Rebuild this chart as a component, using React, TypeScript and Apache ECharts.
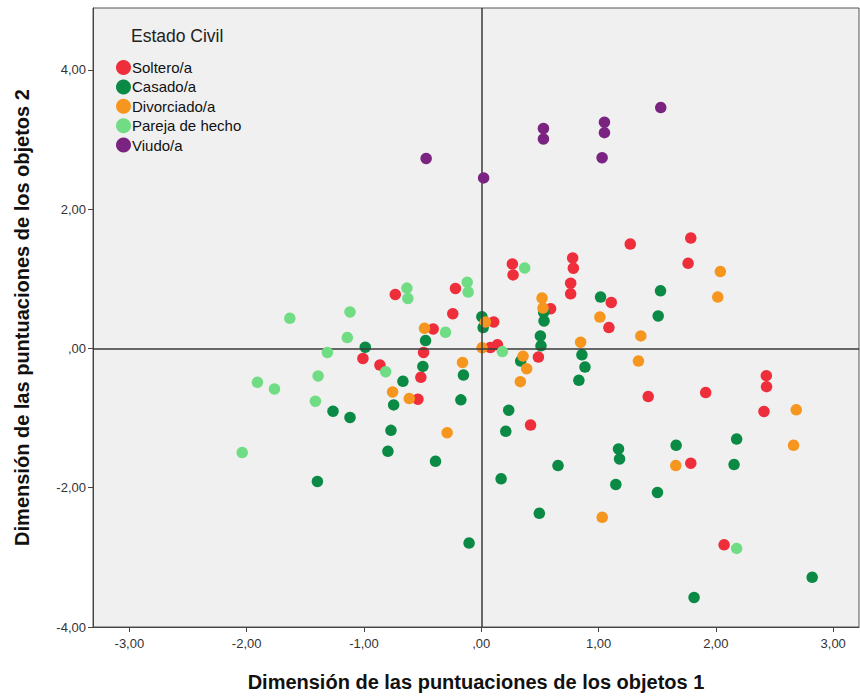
import React, { useEffect, useRef } from "react";
import * as echarts from "echarts";

const seriesNames = ["Soltero/a", "Casado/a", "Divorciado/a", "Pareja de hecho", "Viudo/a"];
const seriesColors = ["#EE2F3B", "#0A8A45", "#F7961E", "#70DD85", "#7A2381"];

const soltero: number[][] = [
  [-0.733, 0.776], [-0.22, 0.862], [-0.243, 0.5], [-0.41, 0.281], [-0.492, -0.057],
  [-1.009, -0.143], [-0.864, -0.238], [-0.515, -0.414], [-0.54, -0.729], [0.106, 0.381],
  [0.078, 0.014], [0.138, 0.053], [0.265, 1.214], [0.271, 1.057], [0.591, 0.571],
  [0.487, -0.124], [0.42, -1.1], [0.779, 1.3], [0.785, 1.153], [0.762, 0.938],
  [0.762, 0.786], [1.108, 0.661], [1.088, 0.3], [1.27, 1.5], [1.786, 1.586],
  [1.763, 1.224], [1.423, -0.69], [1.913, -0.633], [2.43, -0.39], [2.432, -0.548],
  [2.41, -0.905], [1.786, -1.648], [2.07, -2.82],
];

const casado: number[][] = [
  [-0.475, 0.114], [-0.989, 0.019], [-0.498, -0.257], [-0.668, -0.471], [-0.152, -0.381],
  [-0.174, -0.738], [-0.747, -0.81], [-1.264, -0.9], [-1.119, -0.99], [-0.77, -1.176],
  [-0.796, -1.476], [-0.39, -1.62], [-1.397, -1.91], [-0.104, -2.795], [0.005, 0.457],
  [0.016, 0.3], [0.532, 0.52], [0.535, 0.395], [0.504, 0.181], [0.509, 0.038],
  [0.336, -0.181], [0.858, -0.09], [0.884, -0.267], [0.832, -0.457], [1.017, 0.738],
  [1.528, 0.829], [1.508, 0.467], [0.234, -0.886], [0.209, -1.19], [0.169, -1.871],
  [0.654, -1.681], [0.495, -2.367], [1.17, -1.443], [1.179, -1.586], [1.147, -1.952],
  [1.502, -2.067], [1.661, -1.39], [2.177, -1.3], [2.155, -1.667], [2.821, -3.286],
  [1.814, -3.576],
];

const divorciado: number[][] = [
  [-0.484, 0.29], [0.035, 0.381], [0.007, 0.01], [-0.16, -0.2], [-0.756, -0.624],
  [-0.614, -0.719], [-0.291, -1.21], [0.518, 0.724], [0.526, 0.581], [1.011, 0.452],
  [1.36, 0.181], [0.847, 0.09], [1.34, -0.181], [0.356, -0.11], [0.387, -0.29],
  [0.333, -0.476], [2.038, 1.105], [2.016, 0.738], [2.685, -0.881], [2.662, -1.39],
  [1.658, -1.681], [1.031, -2.424],
];

const pareja: number[][] = [
  [-0.12, 0.952], [-0.112, 0.81], [-0.634, 0.867], [-0.626, 0.719], [-1.119, 0.524],
  [-1.632, 0.433], [-1.142, 0.157], [-0.305, 0.233], [-1.312, -0.057], [-0.815, -0.333],
  [-1.391, -0.395], [-1.908, -0.486], [-1.763, -0.581], [-1.414, -0.757], [-2.038, -1.495],
  [0.18, -0.045], [0.37, 1.157], [2.177, -2.871],
];

const viudo: number[][] = [
  [-0.47, 2.73], [0.02, 2.45], [0.53, 3.16], [0.53, 3.01], [1.05, 3.25],
  [1.05, 3.1], [1.03, 2.74], [1.53, 3.46],
];

const xTicks = [-3, -2, -1, 0, 1, 2, 3];
const yTicks = [-4, -2, 0, 2, 4];

const seriesData = [soltero, casado, divorciado, pareja, viudo];

const fmt = (v: number) => (v === 0 ? ",00" : v.toFixed(2).replace(".", ","));

export default function App() {
  const ref = useRef<HTMLDivElement>(null);
  useEffect(() => {
    if (!ref.current) return;
    const chart = echarts.init(ref.current, null, { renderer: "svg" });
    const font = "'Liberation Sans', Arial, sans-serif";
    const option: any = {
      animation: false,
      backgroundColor: "#ffffff",
      textStyle: { fontFamily: font },
      title: {
        text: "Estado Civil",
        left: 126,
        top: 22,
        textStyle: { fontSize: 17.5, fontWeight: "normal", color: "#222", fontFamily: font },
      },
      legend: {
        data: seriesNames,
        orient: "vertical",
        left: 111,
        top: 55,
        itemWidth: 15,
        itemHeight: 15,
        itemGap: 4.4,
        icon: "circle",
        textStyle: { fontSize: 15, color: "#111", fontFamily: font, padding: [0, 0, 0, -4] },
        selectedMode: false,
      },
      grid: {
        left: 93,
        top: 8,
        right: 1,
        bottom: 67,
        show: true,
        backgroundColor: "#f0f0f0",
        borderColor: "#555",
        borderWidth: 1,
      },
      xAxis: {
        type: "value",
        min: -3.31,
        max: 3.22,
        name: "Dimensión de las puntuaciones de los objetos 1",
        nameLocation: "middle",
        nameGap: 45,
        nameTextStyle: { fontSize: 20, fontWeight: "bold", color: "#111", fontFamily: font },
        axisLine: { show: true, onZero: false, lineStyle: { color: "#444", width: 1 } },
        axisTick: { show: true, inside: false, length: 5, customValues: xTicks, lineStyle: { color: "#444" } },
        axisLabel: { customValues: xTicks, formatter: fmt, fontSize: 13, color: "#333", margin: 10, fontFamily: font },
        splitLine: { show: false },
      },
      yAxis: {
        type: "value",
        min: -4,
        max: 4.89,
        name: "Dimensión de las puntuaciones de los objetos 2",
        nameLocation: "middle",
        nameGap: 61,
        nameTextStyle: { fontSize: 20, fontWeight: "bold", color: "#111", fontFamily: font },
        axisLine: { show: true, onZero: false, lineStyle: { color: "#444", width: 1 } },
        axisTick: { show: true, inside: false, length: 5, customValues: yTicks, lineStyle: { color: "#444" } },
        axisLabel: { customValues: yTicks, formatter: fmt, fontSize: 13, color: "#333", margin: 7, fontFamily: font },
        splitLine: { show: false },
      },
      series: [
        ...seriesNames.map((name, i) => ({
          name,
          type: "scatter",
          symbol: "circle",
          symbolSize: 11.5,
          itemStyle: { color: seriesColors[i], opacity: 1 },
          data: seriesData[i],
          z: 2 + i,
        })),
        {
          name: "ref",
          type: "scatter",
          data: [],
          z: 20,
          markLine: {
            silent: true,
            symbol: ["none", "none"],
            label: { show: false },
            lineStyle: { color: "#3a3a3a", width: 1.5, type: "solid" },
            data: [{ xAxis: 0 }, { yAxis: 0 }],
          },
        },
      ],
    };
    chart.setOption(option);
    return () => chart.dispose();
  }, []);
  return (
    <div
      ref={ref}
      style={{ position: "fixed", left: 0, top: 0, width: 860, height: 697, background: "#fff" }}
    />
  );
}
